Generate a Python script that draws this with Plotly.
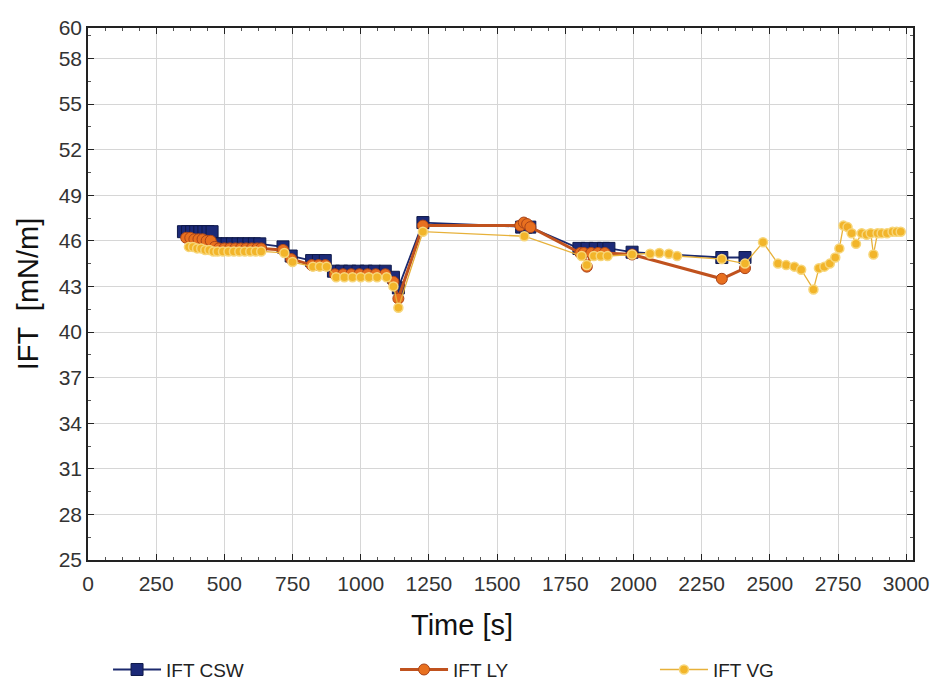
import plotly.graph_objects as go

# ---- data ----
csw_t = [350, 365, 380, 395, 410, 425, 440, 455,
         470, 490, 510, 530, 550, 570, 590, 610, 630,
         715, 745, 820, 845, 870,
         900, 930, 960, 990, 1020, 1050, 1090, 1120, 1138,
         1228, 1590, 1605, 1620,
         1800, 1830, 1860, 1890, 1910, 1995, 2324, 2409]
csw_v = [46.6, 46.6, 46.6, 46.6, 46.6, 46.6, 46.6, 46.6,
         45.8, 45.8, 45.8, 45.8, 45.8, 45.8, 45.8, 45.8, 45.8,
         45.6, 45.0, 44.7, 44.7, 44.7,
         44.0, 44.0, 44.0, 44.0, 44.0, 44.0, 44.0, 43.6, 42.9,
         47.2, 46.9, 46.9, 46.9,
         45.5, 45.5, 45.5, 45.5, 45.5, 45.25, 44.9, 44.9]

ly_t = [360, 375, 390, 405, 420, 435, 450, 465,
        480, 500, 520, 540, 560, 580, 600, 620, 635,
        715, 745, 820, 845, 870,
        905, 935, 965, 995, 1025, 1055, 1090, 1120, 1138,
        1228, 1585, 1598, 1610, 1622,
        1805, 1818, 1829, 1845, 1870, 1895, 1995, 2324, 2409]
ly_v = [46.2, 46.2, 46.1, 46.1, 46.1, 46.0, 46.0, 45.6,
        45.5, 45.5, 45.5, 45.5, 45.5, 45.5, 45.5, 45.5, 45.5,
        45.4, 44.8, 44.4, 44.4, 44.4,
        43.8, 43.8, 43.8, 43.8, 43.8, 43.8, 43.8, 43.3, 42.2,
        47.0, 47.0, 47.2, 47.1, 46.9,
        45.2, 45.2, 44.3, 45.2, 45.2, 45.2, 45.1, 43.5, 44.2]

vg_t = [370, 385, 400, 415, 430, 445, 460,
        475, 495, 515, 535, 555, 575, 595, 615, 635,
        720, 750, 825, 850, 875,
        910, 940, 970, 1000, 1030, 1060, 1095, 1120, 1138,
        1228, 1600, 1810, 1829, 1855, 1880, 1905, 1995,
        2061, 2095, 2130, 2160, 2324, 2409, 2475,
        2530, 2560, 2590, 2615, 2660, 2680, 2700, 2720, 2740, 2755,
        2770, 2785, 2800, 2816, 2837, 2855, 2870, 2880, 2895, 2910,
        2930, 2950, 2965, 2980]
vg_v = [45.6, 45.6, 45.5, 45.5, 45.4, 45.4, 45.3,
        45.3, 45.3, 45.3, 45.3, 45.3, 45.3, 45.3, 45.3, 45.3,
        45.2, 44.6, 44.3, 44.3, 44.3,
        43.6, 43.6, 43.6, 43.6, 43.6, 43.6, 43.6, 43.0, 41.6,
        46.6, 46.3, 45.0, 44.4, 45.0, 45.0, 45.0, 45.1,
        45.15, 45.2, 45.15, 45.0, 44.8, 44.5, 45.9,
        44.5, 44.4, 44.3, 44.1, 42.8, 44.2, 44.3, 44.5, 44.9, 45.5,
        47.0, 46.9, 46.5, 45.8, 46.5, 46.4, 46.5, 45.1, 46.5, 46.5,
        46.5, 46.6, 46.6, 46.6]

y_ticks = [25, 28, 31, 34, 37, 40, 43, 46, 49, 52, 55, 58, 60]
x_ticks = [0, 250, 500, 750, 1000, 1250, 1500, 1750, 2000, 2250, 2500, 2750, 3000]

FONT = "Liberation Sans, Arial"

fig = go.Figure()
fig.add_trace(go.Scatter(
    x=csw_t, y=csw_v, name="IFT CSW", mode="lines+markers", legend="legend",
    line=dict(color="#1c2a6e", width=1.8),
    marker=dict(symbol="square", size=12, color="#1c2a78",
                line=dict(color="#0f1a4a", width=1))))
fig.add_trace(go.Scatter(
    x=ly_t, y=ly_v, name="IFT LY", mode="lines+markers", legend="legend2",
    line=dict(color="#c0521e", width=3),
    marker=dict(symbol="circle", size=11, color="#e8701f",
                line=dict(color="#a8441a", width=1))))
fig.add_trace(go.Scatter(
    x=vg_t, y=vg_v, name="IFT VG", mode="lines+markers", legend="legend3",
    line=dict(color="#e7b13a", width=1.3),
    marker=dict(symbol="circle", size=9, color="#f2b52a",
                line=dict(color="#f7d67a", width=1.5))))

axis_common = dict(
    showline=True, linecolor="#222", linewidth=1.5, mirror="ticks",
    showgrid=True, gridcolor="#d6d6d6", gridwidth=1,
    ticks="inside", ticklen=6, tickcolor="#222",
    tickfont=dict(family=FONT, size=21, color="#333"),
    zeroline=False, automargin=False,
    minor=dict(ticks="inside", ticklen=3, tickcolor="#555", showgrid=False),
)

fig.update_xaxes(
    range=[0, 3025], tickvals=x_ticks, ticktext=[str(v) for v in x_ticks],
    ticklabelstandoff=4,
    **axis_common)
fig.update_xaxes(minor_dtick=62.5)
fig.update_yaxes(
    range=[25, 60], tickvals=y_ticks, ticktext=[str(v) for v in y_ticks],
    title=dict(text="IFT  [mN/m]", font=dict(family=FONT, size=29, color="#111"),
               standoff=12),
    **axis_common)
fig.update_yaxes(minor_dtick=1.5, minor_tick0=25)

# x-axis title sits left of centre in the reference
fig.add_annotation(text="Time [s]", xref="paper", yref="paper", x=0.453, y=-0.122,
                   xanchor="center", yanchor="middle", showarrow=False,
                   font=dict(family=FONT, size=29, color="#111"))

leg_common = dict(orientation="h", xref="container", yref="container",
                  y=0.021, xanchor="left", yanchor="middle", itemwidth=48,
                  font=dict(family=FONT, size=19, color="#222"),
                  bgcolor="rgba(0,0,0,0)")

fig.update_layout(
    width=933, height=684,
    margin=dict(l=88, r=20, t=28, b=124),
    plot_bgcolor="white", paper_bgcolor="white",
    showlegend=True,
    legend=dict(x=0.1158, **leg_common),
    legend2=dict(x=0.4234, **leg_common),
    legend3=dict(x=0.702, **leg_common),
)

# remove the default 8px page margin so the figure fills the window exactly
fig.write_html("out.html", config={"displayModeBar": False},
               post_script="document.body.style.margin='0';")
